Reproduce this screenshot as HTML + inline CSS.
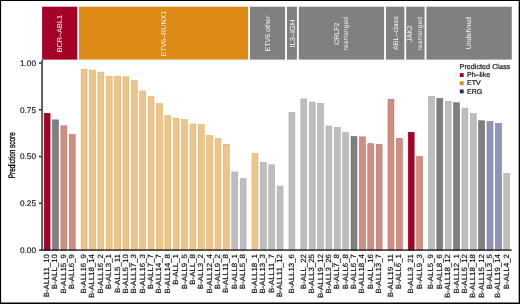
<!DOCTYPE html>
<html lang="en"><head><meta charset="utf-8"><title>Prediction score by subtype</title>
<style>html,body{margin:0;padding:0;background:#fff;}body{width:520px;height:304px;overflow:hidden;}svg{display:block;will-change:transform;}text{font-family:"Liberation Sans", Arial, Helvetica, sans-serif;text-rendering:geometricPrecision;}</style></head><body>
<svg width="520" height="304" viewBox="0 0 520 304">
<rect x="0" y="0" width="520" height="304" fill="#fff"/>
<g><rect x="42.10" y="6.70" width="35.15" height="52.90" fill="#A50026"/><text transform="translate(62.38 33.65) rotate(-90) scale(0.1000 0.1000)" text-anchor="middle" font-size="73.5" fill="#f6f6f6">BCR–ABL1</text><rect x="79.06" y="6.70" width="169.07" height="52.90" fill="#DD8A17"/><text transform="translate(166.30 33.65) rotate(-90) scale(0.1000 0.1000)" text-anchor="middle" font-size="71.0" fill="#f6f6f6">ETV6–RUNX1</text><rect x="249.95" y="6.70" width="35.15" height="52.90" fill="#808080"/><text transform="translate(270.22 33.65) rotate(-90) scale(0.1000 0.1000)" text-anchor="middle" font-size="71.0" fill="#f6f6f6">ETV6 other</text><rect x="286.91" y="6.70" width="10.04" height="52.90" fill="#808080"/><text transform="translate(294.63 33.65) rotate(-90) scale(0.1000 0.1000)" text-anchor="middle" font-size="75.0" fill="#f6f6f6">IL3–IGH</text><rect x="298.77" y="6.70" width="85.37" height="52.90" fill="#808080"/><text transform="translate(338.75 33.65) rotate(-90) scale(0.1000 0.1000)" text-anchor="middle" font-size="70.0" fill="#f6f6f6">CRLF2</text><text transform="translate(347.95 33.65) rotate(-90) scale(0.1000 0.1000)" text-anchor="middle" font-size="68.0" fill="#eeeeee">rearranged</text><rect x="385.95" y="6.70" width="18.41" height="52.90" fill="#808080"/><text transform="translate(397.86 33.15) rotate(-90) scale(0.1000 0.1000)" text-anchor="middle" font-size="71.5" fill="#f6f6f6">ABL–class</text><rect x="406.17" y="6.70" width="18.41" height="52.90" fill="#808080"/><text transform="translate(412.48 33.65) rotate(-90) scale(0.1000 0.1000)" text-anchor="middle" font-size="70.0" fill="#f6f6f6">JAK2</text><text transform="translate(421.88 33.65) rotate(-90) scale(0.1000 0.1000)" text-anchor="middle" font-size="68.0" fill="#eeeeee">rearranged</text><rect x="426.40" y="6.70" width="85.37" height="52.90" fill="#808080"/><text transform="translate(471.28 33.15) rotate(-90) scale(0.1000 0.1000)" text-anchor="middle" font-size="71.0" fill="#f6f6f6">Undefined</text></g>
<g><rect x="44.17" y="113.30" width="5.90" height="137.00" fill="#A50026" stroke="#98001E" stroke-width="0.6"/><rect x="52.54" y="119.90" width="5.90" height="130.40" fill="#7F7F7F" stroke="#6A6A6A" stroke-width="0.6"/><rect x="60.91" y="125.80" width="5.90" height="124.50" fill="#D08E82" stroke="#BF7064" stroke-width="0.6"/><rect x="69.28" y="134.40" width="5.90" height="115.90" fill="#D08E82" stroke="#BF7064" stroke-width="0.6"/><rect x="81.14" y="69.30" width="5.90" height="181.00" fill="#EDC58B" stroke="#E1AE66" stroke-width="0.6"/><rect x="89.51" y="70.10" width="5.90" height="180.20" fill="#EDC58B" stroke="#E1AE66" stroke-width="0.6"/><rect x="97.88" y="72.10" width="5.90" height="178.20" fill="#EDC58B" stroke="#E1AE66" stroke-width="0.6"/><rect x="106.25" y="76.20" width="5.90" height="174.10" fill="#EDC58B" stroke="#E1AE66" stroke-width="0.6"/><rect x="114.62" y="76.20" width="5.90" height="174.10" fill="#EDC58B" stroke="#E1AE66" stroke-width="0.6"/><rect x="122.99" y="76.80" width="5.90" height="173.50" fill="#EDC58B" stroke="#E1AE66" stroke-width="0.6"/><rect x="131.36" y="80.20" width="5.90" height="170.10" fill="#EDC58B" stroke="#E1AE66" stroke-width="0.6"/><rect x="139.73" y="91.00" width="5.90" height="159.30" fill="#EDC58B" stroke="#E1AE66" stroke-width="0.6"/><rect x="148.10" y="96.60" width="5.90" height="153.70" fill="#EDC58B" stroke="#E1AE66" stroke-width="0.6"/><rect x="156.47" y="103.70" width="5.90" height="146.60" fill="#EDC58B" stroke="#E1AE66" stroke-width="0.6"/><rect x="164.84" y="115.75" width="5.90" height="134.55" fill="#EDC58B" stroke="#E1AE66" stroke-width="0.6"/><rect x="173.21" y="118.15" width="5.90" height="132.15" fill="#EDC58B" stroke="#E1AE66" stroke-width="0.6"/><rect x="181.58" y="119.60" width="5.90" height="130.70" fill="#EDC58B" stroke="#E1AE66" stroke-width="0.6"/><rect x="189.95" y="124.00" width="5.90" height="126.30" fill="#EDC58B" stroke="#E1AE66" stroke-width="0.6"/><rect x="198.32" y="124.40" width="5.90" height="125.90" fill="#EDC58B" stroke="#E1AE66" stroke-width="0.6"/><rect x="206.69" y="135.60" width="5.90" height="114.70" fill="#EDC58B" stroke="#E1AE66" stroke-width="0.6"/><rect x="215.06" y="138.50" width="5.90" height="111.80" fill="#EDC58B" stroke="#E1AE66" stroke-width="0.6"/><rect x="223.43" y="144.30" width="5.90" height="106.00" fill="#EDC58B" stroke="#E1AE66" stroke-width="0.6"/><rect x="231.80" y="172.00" width="5.90" height="78.30" fill="#BEBEBE" stroke="#AAAAAA" stroke-width="0.6"/><rect x="240.17" y="178.70" width="5.90" height="71.60" fill="#BEBEBE" stroke="#AAAAAA" stroke-width="0.6"/><rect x="252.02" y="153.60" width="5.90" height="96.70" fill="#EDC58B" stroke="#E1AE66" stroke-width="0.6"/><rect x="260.39" y="162.40" width="5.90" height="87.90" fill="#BEBEBE" stroke="#AAAAAA" stroke-width="0.6"/><rect x="268.76" y="164.80" width="5.90" height="85.50" fill="#BEBEBE" stroke="#AAAAAA" stroke-width="0.6"/><rect x="277.13" y="186.10" width="5.90" height="64.20" fill="#BEBEBE" stroke="#AAAAAA" stroke-width="0.6"/><rect x="288.98" y="112.30" width="5.90" height="138.00" fill="#BEBEBE" stroke="#AAAAAA" stroke-width="0.6"/><rect x="300.84" y="98.90" width="5.90" height="151.40" fill="#BEBEBE" stroke="#AAAAAA" stroke-width="0.6"/><rect x="309.21" y="102.10" width="5.90" height="148.20" fill="#BEBEBE" stroke="#AAAAAA" stroke-width="0.6"/><rect x="317.58" y="103.35" width="5.90" height="146.95" fill="#BEBEBE" stroke="#AAAAAA" stroke-width="0.6"/><rect x="325.95" y="126.00" width="5.90" height="124.30" fill="#BEBEBE" stroke="#AAAAAA" stroke-width="0.6"/><rect x="334.32" y="127.40" width="5.90" height="122.90" fill="#BEBEBE" stroke="#AAAAAA" stroke-width="0.6"/><rect x="342.69" y="132.70" width="5.90" height="117.60" fill="#BEBEBE" stroke="#AAAAAA" stroke-width="0.6"/><rect x="351.06" y="136.50" width="5.90" height="113.80" fill="#7F7F7F" stroke="#6A6A6A" stroke-width="0.6"/><rect x="359.43" y="136.90" width="5.90" height="113.40" fill="#D08E82" stroke="#BF7064" stroke-width="0.6"/><rect x="367.80" y="143.70" width="5.90" height="106.60" fill="#D08E82" stroke="#BF7064" stroke-width="0.6"/><rect x="376.17" y="144.30" width="5.90" height="106.00" fill="#D08E82" stroke="#BF7064" stroke-width="0.6"/><rect x="388.02" y="99.30" width="5.90" height="151.00" fill="#D08E82" stroke="#BF7064" stroke-width="0.6"/><rect x="396.39" y="138.30" width="5.90" height="112.00" fill="#D08E82" stroke="#BF7064" stroke-width="0.6"/><rect x="408.25" y="132.30" width="5.90" height="118.00" fill="#A50026" stroke="#98001E" stroke-width="0.6"/><rect x="416.62" y="156.60" width="5.90" height="93.70" fill="#D08E82" stroke="#BF7064" stroke-width="0.6"/><rect x="428.47" y="96.30" width="5.90" height="154.00" fill="#BEBEBE" stroke="#AAAAAA" stroke-width="0.6"/><rect x="436.84" y="98.50" width="5.90" height="151.80" fill="#7F7F7F" stroke="#6A6A6A" stroke-width="0.6"/><rect x="445.21" y="101.30" width="5.90" height="149.00" fill="#BEBEBE" stroke="#AAAAAA" stroke-width="0.6"/><rect x="453.58" y="102.70" width="5.90" height="147.60" fill="#7F7F7F" stroke="#6A6A6A" stroke-width="0.6"/><rect x="461.95" y="108.15" width="5.90" height="142.15" fill="#BEBEBE" stroke="#AAAAAA" stroke-width="0.6"/><rect x="470.32" y="113.60" width="5.90" height="136.70" fill="#BEBEBE" stroke="#AAAAAA" stroke-width="0.6"/><rect x="478.69" y="120.80" width="5.90" height="129.50" fill="#7F7F7F" stroke="#6A6A6A" stroke-width="0.6"/><rect x="487.06" y="121.60" width="5.90" height="128.70" fill="#8D94B8" stroke="#7078A8" stroke-width="0.6"/><rect x="495.43" y="123.60" width="5.90" height="126.70" fill="#8D94B8" stroke="#7078A8" stroke-width="0.6"/><rect x="503.80" y="173.40" width="5.90" height="76.90" fill="#BEBEBE" stroke="#AAAAAA" stroke-width="0.6"/></g>
<rect x="41.25" y="59.6" width="1.6" height="191.1" fill="#3c4242"/>
<rect x="39" y="249.4" width="472.8" height="1.3" fill="#151515"/>
<text transform="translate(36.00 252.95) scale(0.1000 0.1000)" text-anchor="end" font-size="82.5" fill="#222" stroke="#222" stroke-width="2.00">0.00</text>
<rect x="39" y="202.55" width="2.5" height="1.5" fill="#2a2a2a"/>
<text transform="translate(36.00 206.20) scale(0.1000 0.1000)" text-anchor="end" font-size="82.5" fill="#222" stroke="#222" stroke-width="2.00">0.25</text>
<rect x="39" y="155.80" width="2.5" height="1.5" fill="#2a2a2a"/>
<text transform="translate(36.00 159.45) scale(0.1000 0.1000)" text-anchor="end" font-size="82.5" fill="#222" stroke="#222" stroke-width="2.00">0.50</text>
<rect x="39" y="109.05" width="2.5" height="1.5" fill="#2a2a2a"/>
<text transform="translate(36.00 112.70) scale(0.1000 0.1000)" text-anchor="end" font-size="82.5" fill="#222" stroke="#222" stroke-width="2.00">0.75</text>
<rect x="39" y="62.30" width="2.5" height="1.5" fill="#2a2a2a"/>
<text transform="translate(36.00 65.95) scale(0.1000 0.1000)" text-anchor="end" font-size="82.5" fill="#222" stroke="#222" stroke-width="2.00">1.00</text>
<g><text transform="translate(49.12 254.00) rotate(-90) scale(0.1000 0.0960)" text-anchor="end" font-size="79.0" fill="#111" stroke="#111" stroke-width="2.00">B-ALL11_10</text><text transform="translate(57.49 254.00) rotate(-90) scale(0.1000 0.0960)" text-anchor="end" font-size="79.0" fill="#111" stroke="#111" stroke-width="2.00">B-ALL_10</text><text transform="translate(65.86 254.00) rotate(-90) scale(0.1000 0.0960)" text-anchor="end" font-size="79.0" fill="#111" stroke="#111" stroke-width="2.00">B-ALL15_9</text><text transform="translate(74.23 254.00) rotate(-90) scale(0.1000 0.0960)" text-anchor="end" font-size="79.0" fill="#111" stroke="#111" stroke-width="2.00">B-ALL6_9</text><text transform="translate(86.09 254.00) rotate(-90) scale(0.1000 0.0960)" text-anchor="end" font-size="79.0" fill="#111" stroke="#111" stroke-width="2.00">B-ALL16_9</text><text transform="translate(94.46 254.00) rotate(-90) scale(0.1000 0.0960)" text-anchor="end" font-size="79.0" fill="#111" stroke="#111" stroke-width="2.00">B-ALL18_14</text><text transform="translate(102.83 254.00) rotate(-90) scale(0.1000 0.0960)" text-anchor="end" font-size="79.0" fill="#111" stroke="#111" stroke-width="2.00">B-ALL16_2</text><text transform="translate(111.20 254.00) rotate(-90) scale(0.1000 0.0960)" text-anchor="end" font-size="79.0" fill="#111" stroke="#111" stroke-width="2.00">B-ALL3_1</text><text transform="translate(119.57 254.00) rotate(-90) scale(0.1000 0.0960)" text-anchor="end" font-size="79.0" fill="#111" stroke="#111" stroke-width="2.00">B-ALL5_11</text><text transform="translate(127.94 254.00) rotate(-90) scale(0.1000 0.0960)" text-anchor="end" font-size="79.0" fill="#111" stroke="#111" stroke-width="2.00">B-ALL5_10</text><text transform="translate(136.31 254.00) rotate(-90) scale(0.1000 0.0960)" text-anchor="end" font-size="79.0" fill="#111" stroke="#111" stroke-width="2.00">B-ALL17_3</text><text transform="translate(144.68 254.00) rotate(-90) scale(0.1000 0.0960)" text-anchor="end" font-size="79.0" fill="#111" stroke="#111" stroke-width="2.00">B-ALL16_3</text><text transform="translate(153.05 254.00) rotate(-90) scale(0.1000 0.0960)" text-anchor="end" font-size="79.0" fill="#111" stroke="#111" stroke-width="2.00">B-ALL7_7</text><text transform="translate(161.42 254.00) rotate(-90) scale(0.1000 0.0960)" text-anchor="end" font-size="79.0" fill="#111" stroke="#111" stroke-width="2.00">B-ALL14_7</text><text transform="translate(169.79 254.00) rotate(-90) scale(0.1000 0.0960)" text-anchor="end" font-size="79.0" fill="#111" stroke="#111" stroke-width="2.00">B-ALL14_8</text><text transform="translate(178.16 254.00) rotate(-90) scale(0.1000 0.0960)" text-anchor="end" font-size="79.0" fill="#111" stroke="#111" stroke-width="2.00">B-ALL_1</text><text transform="translate(186.53 254.00) rotate(-90) scale(0.1000 0.0960)" text-anchor="end" font-size="79.0" fill="#111" stroke="#111" stroke-width="2.00">B-ALL9_5</text><text transform="translate(194.90 254.00) rotate(-90) scale(0.1000 0.0960)" text-anchor="end" font-size="79.0" fill="#111" stroke="#111" stroke-width="2.00">B-ALL_8</text><text transform="translate(203.27 254.00) rotate(-90) scale(0.1000 0.0960)" text-anchor="end" font-size="79.0" fill="#111" stroke="#111" stroke-width="2.00">B-ALL3_2</text><text transform="translate(211.64 254.00) rotate(-90) scale(0.1000 0.0960)" text-anchor="end" font-size="79.0" fill="#111" stroke="#111" stroke-width="2.00">B-ALL12_4</text><text transform="translate(220.01 254.00) rotate(-90) scale(0.1000 0.0960)" text-anchor="end" font-size="79.0" fill="#111" stroke="#111" stroke-width="2.00">B-ALL9_2</text><text transform="translate(228.38 254.00) rotate(-90) scale(0.1000 0.0960)" text-anchor="end" font-size="79.0" fill="#111" stroke="#111" stroke-width="2.00">B-ALL11_8</text><text transform="translate(236.75 254.00) rotate(-90) scale(0.1000 0.0960)" text-anchor="end" font-size="79.0" fill="#111" stroke="#111" stroke-width="2.00">B-ALL8_1</text><text transform="translate(245.12 254.00) rotate(-90) scale(0.1000 0.0960)" text-anchor="end" font-size="79.0" fill="#111" stroke="#111" stroke-width="2.00">B-ALL5_8</text><text transform="translate(256.97 254.00) rotate(-90) scale(0.1000 0.0960)" text-anchor="end" font-size="79.0" fill="#111" stroke="#111" stroke-width="2.00">B-ALL18_1</text><text transform="translate(265.34 254.00) rotate(-90) scale(0.1000 0.0960)" text-anchor="end" font-size="79.0" fill="#111" stroke="#111" stroke-width="2.00">B-ALL13_3</text><text transform="translate(273.71 254.00) rotate(-90) scale(0.1000 0.0960)" text-anchor="end" font-size="79.0" fill="#111" stroke="#111" stroke-width="2.00">B-ALL11_7</text><text transform="translate(282.08 254.00) rotate(-90) scale(0.1000 0.0960)" text-anchor="end" font-size="79.0" fill="#111" stroke="#111" stroke-width="2.00">B-ALL11_12</text><text transform="translate(293.93 254.00) rotate(-90) scale(0.1000 0.0960)" text-anchor="end" font-size="79.0" fill="#111" stroke="#111" stroke-width="2.00">B-ALL13_6</text><text transform="translate(305.79 254.00) rotate(-90) scale(0.1000 0.0960)" text-anchor="end" font-size="79.0" fill="#111" stroke="#111" stroke-width="2.00">B-ALL_22</text><text transform="translate(314.16 254.00) rotate(-90) scale(0.1000 0.0960)" text-anchor="end" font-size="79.0" fill="#111" stroke="#111" stroke-width="2.00">B-ALL3_25</text><text transform="translate(322.53 254.00) rotate(-90) scale(0.1000 0.0960)" text-anchor="end" font-size="79.0" fill="#111" stroke="#111" stroke-width="2.00">B-ALL19_12</text><text transform="translate(330.90 254.00) rotate(-90) scale(0.1000 0.0960)" text-anchor="end" font-size="79.0" fill="#111" stroke="#111" stroke-width="2.00">B-ALL3_26</text><text transform="translate(339.27 254.00) rotate(-90) scale(0.1000 0.0960)" text-anchor="end" font-size="79.0" fill="#111" stroke="#111" stroke-width="2.00">B-ALL7_8</text><text transform="translate(347.64 254.00) rotate(-90) scale(0.1000 0.0960)" text-anchor="end" font-size="79.0" fill="#111" stroke="#111" stroke-width="2.00">B-ALL6_8</text><text transform="translate(356.01 254.00) rotate(-90) scale(0.1000 0.0960)" text-anchor="end" font-size="79.0" fill="#111" stroke="#111" stroke-width="2.00">B-ALL6_7</text><text transform="translate(364.38 254.00) rotate(-90) scale(0.1000 0.0960)" text-anchor="end" font-size="79.0" fill="#111" stroke="#111" stroke-width="2.00">B-ALL18_4</text><text transform="translate(372.75 254.00) rotate(-90) scale(0.1000 0.0960)" text-anchor="end" font-size="79.0" fill="#111" stroke="#111" stroke-width="2.00">B-ALL_16</text><text transform="translate(381.12 254.00) rotate(-90) scale(0.1000 0.0960)" text-anchor="end" font-size="79.0" fill="#111" stroke="#111" stroke-width="2.00">B-ALL13_7</text><text transform="translate(392.97 254.00) rotate(-90) scale(0.1000 0.0960)" text-anchor="end" font-size="79.0" fill="#111" stroke="#111" stroke-width="2.00">B-ALL19_11</text><text transform="translate(401.34 254.00) rotate(-90) scale(0.1000 0.0960)" text-anchor="end" font-size="79.0" fill="#111" stroke="#111" stroke-width="2.00">B-ALL6_1</text><text transform="translate(413.20 254.00) rotate(-90) scale(0.1000 0.0960)" text-anchor="end" font-size="79.0" fill="#111" stroke="#111" stroke-width="2.00">B-ALL3_21</text><text transform="translate(421.57 254.00) rotate(-90) scale(0.1000 0.0960)" text-anchor="end" font-size="79.0" fill="#111" stroke="#111" stroke-width="2.00">B-ALL9_3</text><text transform="translate(433.42 254.00) rotate(-90) scale(0.1000 0.0960)" text-anchor="end" font-size="79.0" fill="#111" stroke="#111" stroke-width="2.00">B-ALL5_9</text><text transform="translate(441.79 254.00) rotate(-90) scale(0.1000 0.0960)" text-anchor="end" font-size="79.0" fill="#111" stroke="#111" stroke-width="2.00">B-ALL8_6</text><text transform="translate(450.16 254.00) rotate(-90) scale(0.1000 0.0960)" text-anchor="end" font-size="79.0" fill="#111" stroke="#111" stroke-width="2.00">B-ALL18_12</text><text transform="translate(458.53 254.00) rotate(-90) scale(0.1000 0.0960)" text-anchor="end" font-size="79.0" fill="#111" stroke="#111" stroke-width="2.00">B-ALL12_1</text><text transform="translate(466.90 254.00) rotate(-90) scale(0.1000 0.0960)" text-anchor="end" font-size="79.0" fill="#111" stroke="#111" stroke-width="2.00">B-ALL5_12</text><text transform="translate(475.27 254.00) rotate(-90) scale(0.1000 0.0960)" text-anchor="end" font-size="79.0" fill="#111" stroke="#111" stroke-width="2.00">B-ALL18_18</text><text transform="translate(483.64 254.00) rotate(-90) scale(0.1000 0.0960)" text-anchor="end" font-size="79.0" fill="#111" stroke="#111" stroke-width="2.00">B-ALL15_12</text><text transform="translate(492.01 254.00) rotate(-90) scale(0.1000 0.0960)" text-anchor="end" font-size="79.0" fill="#111" stroke="#111" stroke-width="2.00">B-ALL3_5</text><text transform="translate(500.38 254.00) rotate(-90) scale(0.1000 0.0960)" text-anchor="end" font-size="79.0" fill="#111" stroke="#111" stroke-width="2.00">B-ALL19_14</text><text transform="translate(508.75 254.00) rotate(-90) scale(0.1000 0.0960)" text-anchor="end" font-size="79.0" fill="#111" stroke="#111" stroke-width="2.00">B-ALL4_2</text></g>
<text transform="translate(15.00 155.20) rotate(-90) scale(0.0682 0.1000)" text-anchor="middle" font-size="94.0" fill="#000" stroke="#000" stroke-width="3.20">Prediction score</text>
<text transform="translate(459.60 69.00) scale(0.1000 0.1000)" text-anchor="start" font-size="72.3" fill="#111" stroke="#111" stroke-width="2.00">Predicted Class</text>
<rect x="459.8" y="73.10" width="3.9" height="3.9" fill="#A50026"/>
<text transform="translate(466.90 77.20) scale(0.1000 0.1000)" text-anchor="start" font-size="71.0" fill="#111" stroke="#111" stroke-width="2.00">Ph–like</text>
<rect x="459.8" y="81.30" width="3.9" height="3.9" fill="#E08A10"/>
<text transform="translate(466.90 85.40) scale(0.1000 0.1000)" text-anchor="start" font-size="71.0" fill="#111" stroke="#111" stroke-width="2.00">ETV</text>
<rect x="459.8" y="89.50" width="3.9" height="3.9" fill="#1B3478"/>
<text transform="translate(466.90 93.60) scale(0.1000 0.1000)" text-anchor="start" font-size="71.0" fill="#111" stroke="#111" stroke-width="2.00">ERG</text>
<rect x="0" y="0" width="520" height="1" fill="#000"/>
<rect x="0" y="0" width="1.1" height="304" fill="#000"/>
<rect x="518.7" y="0" width="1.3" height="304" fill="#000"/>
<rect x="0" y="302.5" width="520" height="1.5" fill="#000"/>
</svg></body></html>
